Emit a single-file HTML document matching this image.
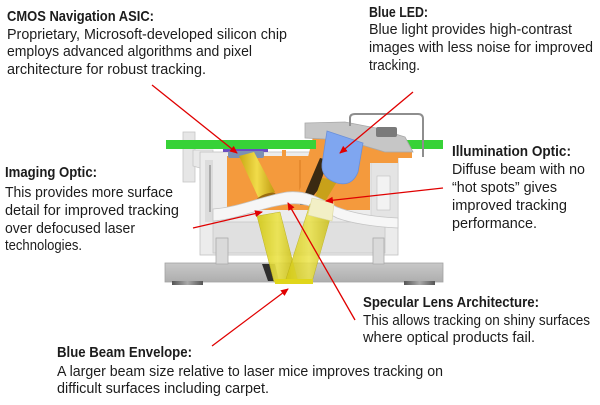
<!DOCTYPE html>
<html><head><meta charset="utf-8"><style>
html,body{margin:0;padding:0;background:#fff;}
svg{display:block;}
text{font-family:"Liberation Sans",sans-serif;font-size:15px;fill:#1c1c1c;}
.b{font-weight:bold;}
</style></head><body>
<svg width="600" height="405" viewBox="0 0 600 405" xmlns="http://www.w3.org/2000/svg">
<defs>
<linearGradient id="yb" x1="0" y1="0" x2="1" y2="0">
<stop offset="0" stop-color="#d2c812"/><stop offset="0.5" stop-color="#ece44a"/><stop offset="1" stop-color="#c6b910"/>
</linearGradient>
<linearGradient id="cyl" x1="0" y1="0" x2="1" y2="0">
<stop offset="0" stop-color="#c9a814"/><stop offset="0.5" stop-color="#f1dc4a"/><stop offset="1" stop-color="#c09a10"/>
</linearGradient>
<linearGradient id="foot" x1="0" y1="0" x2="1" y2="0">
<stop offset="0" stop-color="#555"/><stop offset="0.5" stop-color="#aaa"/><stop offset="1" stop-color="#555"/>
</linearGradient>
<linearGradient id="base" x1="0" y1="0" x2="0" y2="1">
<stop offset="0" stop-color="#c8c8c8"/><stop offset="1" stop-color="#aeaeae"/>
</linearGradient>
<marker id="ah" markerWidth="8" markerHeight="8" refX="7" refY="4" orient="auto" markerUnits="userSpaceOnUse">
<path d="M0,0.5 L8,4 L0,7.5 Z" fill="#e00000"/>
</marker>
</defs>

<!-- base plate -->
<rect x="165" y="263" width="278" height="19" fill="url(#base)" stroke="#a2a2a2" stroke-width="0.8"/>
<rect x="172" y="281" width="31" height="4" fill="url(#foot)"/>
<rect x="404" y="281" width="31" height="4" fill="url(#foot)"/>
<polygon points="262,264 275,264 279,281 268,281" fill="#2e2e2e"/>

<!-- left post & flange -->
<rect x="183" y="132" width="12" height="50" fill="#e6e6e6" stroke="#c6c6c6" stroke-width="0.8"/>
<polygon points="193,150 213,150 213,175 200,180 200,168 193,166" fill="#e9e9e9" stroke="#c6c6c6" stroke-width="0.8"/>

<!-- housing body -->
<rect x="200" y="152" width="198" height="103" fill="#ececec" stroke="#c2c2c2" stroke-width="0.8"/>
<rect x="213" y="222" width="172" height="31" fill="#e0e0e0" stroke="#c6c6c6" stroke-width="0.8"/>
<rect x="205" y="160" width="8" height="62" fill="#dcdcdc"/>
<line x1="210" y1="165" x2="210" y2="212" stroke="#9a9a9a" stroke-width="1.5"/>
<!-- legs -->
<rect x="216" y="238" width="12" height="26" fill="#dadada" stroke="#ababab" stroke-width="0.8"/>
<rect x="373" y="238" width="11" height="26" fill="#dadada" stroke="#ababab" stroke-width="0.8"/>
<!-- right column & cylinder -->
<rect x="371" y="160" width="27" height="60" fill="#e4e4e4" stroke="#c8c8c8" stroke-width="0.6"/>
<rect x="377" y="176" width="13" height="34" fill="#f2f2f2" stroke="#c0c0c0" stroke-width="0.6"/>

<!-- orange block -->
<rect x="227" y="156" width="143" height="54" fill="#f49a3d"/>
<line x1="258" y1="160" x2="262" y2="205" stroke="#d97a20" stroke-width="1"/>
<line x1="300" y1="160" x2="300" y2="200" stroke="#d97a20" stroke-width="1"/>
<rect x="282" y="150" width="4" height="12" fill="#f49a3d"/>
<!-- orange top-right piece -->
<polygon points="360,140 412,140 412,158 398,158 398,163 360,163" fill="#f49a3d"/>
<rect x="380" y="134" width="8" height="8" fill="#f49a3d"/>
<!-- slanted orange wall left of LED -->
<polygon points="313,137 331,134 322,178 303,205 296,205" fill="#f49a3d"/>
<polygon points="320,158 328,160 318,190 306,205 300,205" fill="#3a2a12"/>
<polygon points="322,178 338,180 326,200 314,200" fill="#c8a11a"/>

<!-- green PCB -->
<rect x="166" y="140" width="150" height="9" fill="#37d237"/>
<rect x="405" y="140" width="38" height="9" fill="#37d237"/>

<!-- gray cover & bracket -->
<polygon points="305,123 345,122 376,128 405,137 413,152 385,152 345,140 305,138" fill="#c6c6c6" stroke="#a8a8a8" stroke-width="0.8"/>
<path d="M350,126 L350,118 Q350,114 355,114 L418,114 Q423,114 423,119 L423,157" fill="none" stroke="#8e8e8e" stroke-width="2"/>
<rect x="376" y="127" width="21" height="10" rx="2" fill="#7a7a7a"/>

<!-- blue LED -->
<path d="M327,131 L363,143 L358,172 Q352,187 337,183 Q321,178 322,164 Z" fill="#7fa6f0" stroke="#6a8fd8" stroke-width="0.8"/>

<!-- chip -->
<rect x="223" y="149" width="45" height="3" fill="#6b4ec2"/>
<rect x="228" y="151" width="36" height="7" rx="2" fill="#7c90b4"/>

<!-- imaging lens cylinder -->
<polygon points="239,156 254,152 275,192 259,199" fill="url(#cyl)"/>
<ellipse cx="266" cy="197" rx="10" ry="3" transform="rotate(-20 266 197)" fill="#9a6a10"/>

<!-- white lens band -->
<path d="M213,209 C240,207 262,196 287,192 C305,190 318,197 337,207 C355,214 375,217 398,218 L398,228 C375,227 350,223 337,218 C320,209 305,202 289,204 C265,206 240,219 213,221 Z" fill="#f6f6f6" stroke="#c4c4c4" stroke-width="0.8"/>

<!-- beams -->
<polygon points="257,216 280,212 298,282 274,282" fill="url(#yb)" opacity="0.9" stroke="#b8ac10" stroke-width="0.5"/>
<polygon points="310,204 333,208 312,282 285,282" fill="url(#yb)" opacity="0.85" stroke="#b8ac10" stroke-width="0.5"/>
<polygon points="312,198 334,203 332,221 308,215" fill="#f2efc6" stroke="#dcd8a0" stroke-width="0.6"/>
<rect x="275" y="279" width="38" height="5" fill="#e0d61a"/>

<!-- text -->
<text class="b" x="7" y="21" textLength="147" lengthAdjust="spacingAndGlyphs">CMOS Navigation ASIC:</text>
<text x="7" y="39" textLength="280" lengthAdjust="spacingAndGlyphs">Proprietary, Microsoft-developed silicon chip</text>
<text x="7" y="56" textLength="245" lengthAdjust="spacingAndGlyphs">employs advanced algorithms and pixel</text>
<text x="7" y="74" textLength="199" lengthAdjust="spacingAndGlyphs">architecture for robust tracking.</text>

<text class="b" x="369" y="17" textLength="59" lengthAdjust="spacingAndGlyphs">Blue LED:</text>
<text x="369" y="34" textLength="203" lengthAdjust="spacingAndGlyphs">Blue light provides high-contrast</text>
<text x="369" y="52" textLength="224" lengthAdjust="spacingAndGlyphs">images with less noise for improved</text>
<text x="369" y="70" textLength="51" lengthAdjust="spacingAndGlyphs">tracking.</text>

<text class="b" x="5" y="177" textLength="92" lengthAdjust="spacingAndGlyphs">Imaging Optic:</text>
<text x="5" y="197" textLength="168" lengthAdjust="spacingAndGlyphs">This provides more surface</text>
<text x="5" y="215" textLength="174" lengthAdjust="spacingAndGlyphs">detail for improved tracking</text>
<text x="5" y="233" textLength="130" lengthAdjust="spacingAndGlyphs">over defocused laser</text>
<text x="5" y="250" textLength="77" lengthAdjust="spacingAndGlyphs">technologies.</text>

<text class="b" x="452" y="156" textLength="119" lengthAdjust="spacingAndGlyphs">Illumination Optic:</text>
<text x="452" y="174" textLength="133" lengthAdjust="spacingAndGlyphs">Diffuse beam with no</text>
<text x="452" y="192" textLength="105" lengthAdjust="spacingAndGlyphs">“hot spots” gives</text>
<text x="452" y="210" textLength="115" lengthAdjust="spacingAndGlyphs">improved tracking</text>
<text x="452" y="228" textLength="85" lengthAdjust="spacingAndGlyphs">performance.</text>

<text class="b" x="363" y="307" textLength="176" lengthAdjust="spacingAndGlyphs">Specular Lens Architecture:</text>
<text x="363" y="325" textLength="227" lengthAdjust="spacingAndGlyphs">This allows tracking on shiny surfaces</text>
<text x="363" y="342" textLength="172" lengthAdjust="spacingAndGlyphs">where optical products fail.</text>

<text class="b" x="57" y="357" textLength="135" lengthAdjust="spacingAndGlyphs">Blue Beam Envelope:</text>
<text x="57" y="376" textLength="386" lengthAdjust="spacingAndGlyphs">A larger beam size relative to laser mice improves tracking on</text>
<text x="57" y="393" textLength="212" lengthAdjust="spacingAndGlyphs">difficult surfaces including carpet.</text>

<!-- red arrows -->
<g stroke="#e00000" stroke-width="1.3" fill="none" marker-end="url(#ah)">
<line x1="152" y1="85" x2="237" y2="153"/>
<line x1="413" y1="92" x2="340" y2="153"/>
<line x1="443" y1="188" x2="326" y2="201"/>
<line x1="193" y1="228" x2="262" y2="212"/>
<line x1="355" y1="320" x2="288" y2="203"/>
<line x1="212" y1="346" x2="288" y2="289"/>
</g>
</svg>
</body></html>
